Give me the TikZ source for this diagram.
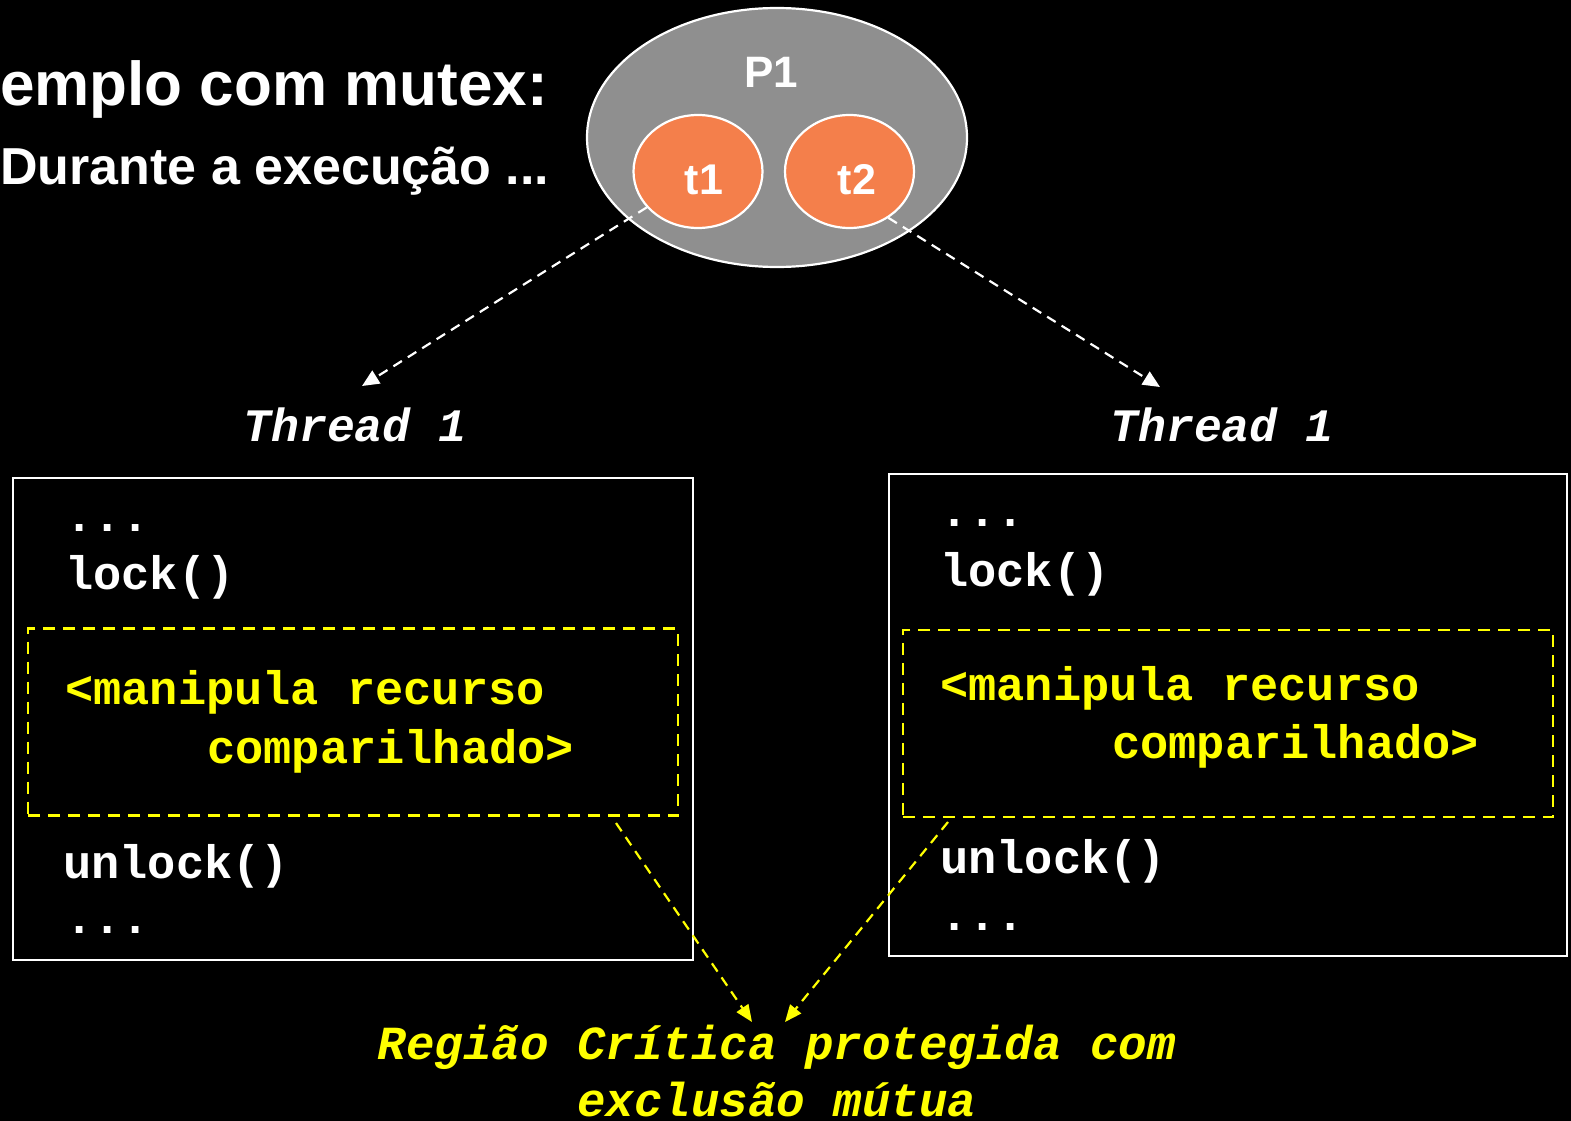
\documentclass[tikz,border=0pt]{standalone}
\usepackage{fontspec}
\setmainfont{Liberation Sans}
\newfontfamily\codefont{Liberation Mono}
\usetikzlibrary{arrows.meta,shapes.geometric}

\definecolor{procgray}{HTML}{8F8F8F}
\definecolor{threadorange}{HTML}{F47F4B}
\definecolor{crityellow}{HTML}{FFFF00}

\tikzset{
  proc/.style={ellipse, draw=white, line width=2.2pt, fill=procgray, inner sep=0pt},
  thr/.style={ellipse, draw=white, line width=2.2pt, fill=threadorange, inner sep=0pt,
              minimum width=129pt, minimum height=113pt},
  sanslabel/.style={text=white, font=\fontsize{43}{50}\selectfont\bfseries, inner sep=0pt, anchor=base},
  codebox/.style={draw=white, line width=2.5pt, fill=black, inner sep=0pt,
                  minimum width=680pt, minimum height=482pt},
  critbox/.style={draw=crityellow, line width=2.2pt, dash pattern=on 12pt off 8pt, inner sep=0pt,
                  minimum width=650pt, minimum height=187pt},
  codeline/.style={text=white, font=\codefont\fontsize{47}{56}\selectfont\bfseries, inner sep=0pt, anchor=base west},
  critline/.style={codeline, text=crityellow},
  thrtitle/.style={text=white, font=\codefont\fontsize{46.5}{56}\selectfont\bfseries\itshape, inner sep=0pt, anchor=base},
  crittitle/.style={text=crityellow, font=\codefont\fontsize{47.5}{56}\selectfont\bfseries\itshape, inner sep=0pt, anchor=base},
  spawn/.style={draw=white, line width=2.2pt, dash pattern=on 10pt off 7pt, -{Triangle[length=17pt,width=15pt]}},
  crit/.style={draw=crityellow, line width=2.2pt, dash pattern=on 10pt off 7pt, -{Triangle[length=17pt,width=14pt]}},
}

\begin{document}
\begin{tikzpicture}[x=1pt,y=-1pt]
  % page
  \fill[black] (0,0) rectangle (1571,1121);
  \useasboundingbox (0,0) rectangle (1571,1121);

  % heading
  \node[text=white, font=\fontsize{62}{70}\selectfont\bfseries, inner sep=0pt, anchor=base east] (head) at (548,106) {emplo com mutex:};
  \node[text=white, font=\fontsize{52}{60}\selectfont\bfseries, inner sep=0pt, anchor=base west] (sub) at (0,184) {Durante a execução ...};

  % process with its two threads
  \node[proc, minimum width=380pt, minimum height=259pt] (p1) at (777,137.5) {};
  \node[sanslabel, font=\fontsize{44}{50}\selectfont\bfseries] (p1lbl) at (771,88) {P1};
  \node[thr] (t1) at (698,171.5) {};
  \node[thr] (t2) at (849.5,171.5) {};
  \node[sanslabel] (t1lbl) at (704,194) {t1};
  \node[sanslabel] (t2lbl) at (857,194) {t2};

  % thread titles
  \node[thrtitle] (th1) at (355,441) {Thread 1};
  \node[thrtitle] (th2) at (1222,441) {Thread 1};
  \coordinate (tip1) at (362,386);
  \coordinate (tip2) at (1160,387);
  \draw[spawn] (t1.215) -- (tip1);
  \draw[spawn] (t2.310) -- (tip2);

  % left thread code
  \node[codebox] (box1) at (353,719) {};
  \node[critbox] (cr1) at (353,722) {};
  \node[codeline] (l1a) at (65,531) {...};
  \node[codeline] (l1b) at (65,589) {lock()};
  \node[critline] (l1c) at (65,704) {<manipula recurso};
  \node[critline] (l1d) at (207,763) {comparilhado>};
  \node[codeline] (l1e) at (63,878) {unlock()};
  \node[codeline] (l1f) at (65,933) {...};

  % right thread code
  \node[codebox, minimum width=678pt] (box2) at (1228,715) {};
  \node[critbox] (cr2) at (1228,723.5) {};
  \node[codeline] (l2a) at (940,526) {...};
  \node[codeline] (l2b) at (940,586) {lock()};
  \node[critline] (l2c) at (940,700) {<manipula recurso};
  \node[critline] (l2d) at (1112,758) {comparilhado>};
  \node[codeline] (l2e) at (940,873) {unlock()};
  \node[codeline] (l2f) at (940,930) {...};

  % critical region caption
  \node[crittitle] (cap1) at (777,1059) {Região Crítica protegida com};
  \node[crittitle] (cap2) at (777,1116) {exclusão mútua};
  \coordinate (c1s) at (616,823);
  \coordinate (c2s) at (948,822);
  \coordinate (c1e) at (752,1022);
  \coordinate (c2e) at (785,1022);
  \draw[crit] (c1s) -- (c1e);
  \draw[crit] (c2s) -- (c2e);
\end{tikzpicture}
\end{document}
